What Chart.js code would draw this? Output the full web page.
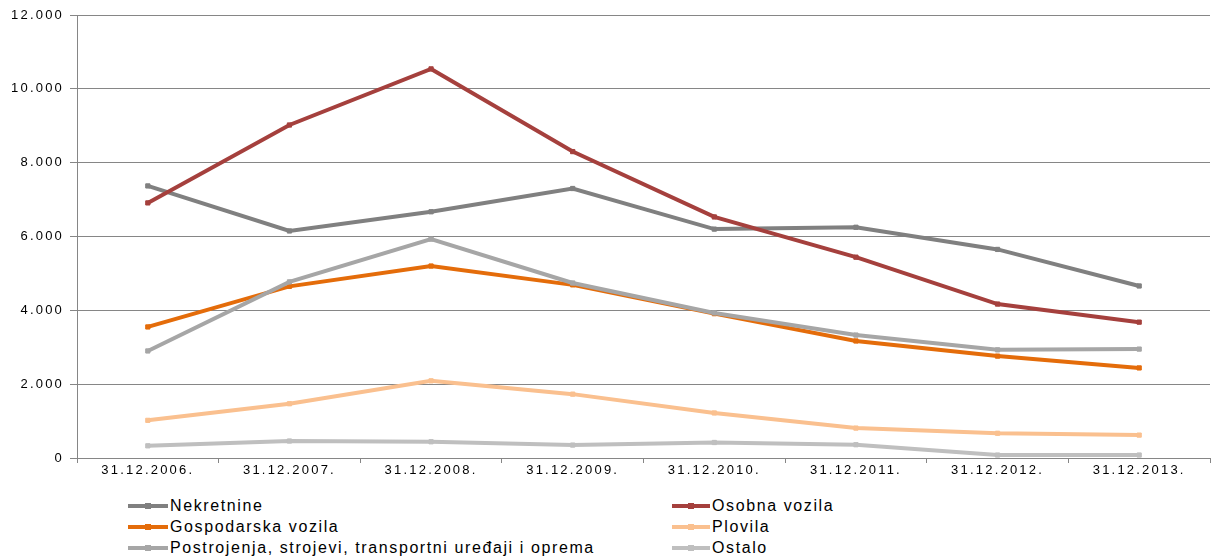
<!DOCTYPE html>
<html>
<head>
<meta charset="utf-8">
<script src="https://cdn.jsdelivr.net/npm/chart.js@4/dist/chart.umd.min.js"></script>
<style>
    html, body { margin: 0; padding: 0; background: #fff; }
    #wrap { position: relative; width: 1215px; height: 556px; overflow: hidden; }
    #chart-box { position: absolute; left: 0; top: 0; width: 1215px; height: 480px; }
    .legend-item {
        position: absolute;
        height: 20px;
        font-family: "Liberation Sans", Arial, sans-serif;
        font-size: 16px;
        letter-spacing: 1.6px;
        color: #000;
        line-height: 20px;
        white-space: nowrap;
    }
    .legend-line {
        position: absolute;
        left: 0;
        top: 8px;
        height: 4px;
    }
    .legend-mark {
        position: absolute;
        top: 7px;
        width: 6px;
        height: 6px;
    }
    .legend-text { position: absolute; top: 0; }
</style>
</head>
<body>
<div id="wrap">
    <div id="chart-box"><canvas id="trend-chart"></canvas></div>
    <div id="legend"></div>
</div>
<script>
// --- Data ---
const categories = ["31.12.2006.", "31.12.2007.", "31.12.2008.", "31.12.2009.", "31.12.2010.", "31.12.2011.", "31.12.2012.", "31.12.2013."];
const seriesNames = ["Nekretnine", "Osobna vozila", "Gospodarska vozila", "Plovila", "Postrojenja, strojevi, transportni uređaji i oprema", "Ostalo"];
const nekretnine = [7370, 6150, 6670, 7300, 6200, 6250, 5650, 4660];
const osobnaVozila = [6910, 9020, 10540, 8300, 6530, 5440, 4170, 3680];
const gospodarskaVozila = [3550, 4650, 5200, 4690, 3910, 3170, 2760, 2440];
const plovila = [1020, 1470, 2090, 1730, 1220, 810, 670, 620];
const postrojenja = [2900, 4770, 5930, 4740, 3930, 3330, 2930, 2950];
const ostalo = [330, 460, 440, 350, 420, 360, 80, 80];
const yTicks = [0, 2000, 4000, 6000, 8000, 10000, 12000];

const seriesValues = [nekretnine, osobnaVozila, gospodarskaVozila, plovila, postrojenja, ostalo];
const seriesColors = ["#808080", "#a5403d", "#e46c0a", "#fac08f", "#a6a6a6", "#bfbfbf"];

function formatThousands(v) {
    return String(v).replace(/\B(?=(\d{3})+(?!\d))/g, ".");
}

// the axis text in the original is spaced out, so widen it a bit
const spacingPlugin = {
    id: "spacing",
    beforeDraw(chart) { chart.ctx.letterSpacing = "2.2px"; },
    afterDraw(chart) { chart.ctx.letterSpacing = "0px"; }
};

const datasets = seriesNames.map((name, i) => ({
    label: name,
    data: seriesValues[i],
    borderColor: seriesColors[i],
    backgroundColor: seriesColors[i],
    borderWidth: 4,
    pointStyle: "rect",
    pointRadius: 3,
    pointBorderWidth: 1,
    tension: 0,
    order: seriesNames.length - i // later series sit on top, as in the original
}));

new Chart(document.getElementById("trend-chart"), {
    type: "line",
    data: { labels: categories, datasets: datasets },
    options: {
        responsive: true,
        maintainAspectRatio: false,
        animation: false,
        layout: { padding: { top: 15, right: 0, bottom: 0, left: 0 } },
        plugins: {
            legend: { display: false },
            tooltip: { enabled: false }
        },
        scales: {
            x: {
                offset: true,
                grid: {
                    offset: true,
                    drawOnChartArea: false,
                    drawTicks: true,
                    tickLength: 5,
                    color: "#868686"
                },
                border: { color: "#868686" },
                ticks: {
                    color: "#000",
                    padding: 0,
                    maxRotation: 0,
                    autoSkip: false,
                    font: { family: "'Liberation Sans', Arial, sans-serif", size: 13 }
                },
                afterFit(scale) { scale.height = 22; }
            },
            y: {
                min: 0,
                max: 12000,
                afterBuildTicks(scale) { scale.ticks = yTicks.map(v => ({ value: v })); },
                grid: { color: "#868686", tickLength: 7 },
                border: { color: "#868686" },
                ticks: {
                    color: "#000",
                    padding: 6,
                    callback: v => formatThousands(v),
                    font: { family: "'Liberation Sans', Arial, sans-serif", size: 13 }
                },
                afterFit(scale) { scale.width = 77; }
            }
        }
    },
    plugins: [spacingPlugin]
});

// --- HTML legend, two columns like the original ---
const legendBox = document.getElementById("legend");
const colLeft = [128, 672];
const lineWidth = [40, 38];
const rowTop = [496, 517, 538];
seriesNames.forEach((name, i) => {
    const col = i % 2;
    const item = document.createElement("div");
    item.className = "legend-item";
    item.style.left = colLeft[col] + "px";
    item.style.top = rowTop[Math.floor(i / 2)] + "px";
    item.innerHTML = '<div class="legend-line"></div><div class="legend-mark"></div><span class="legend-text"></span>';
    const line = item.querySelector(".legend-line");
    line.style.width = lineWidth[col] + "px";
    line.style.background = seriesColors[i];
    const mark = item.querySelector(".legend-mark");
    mark.style.left = (lineWidth[col] / 2 - 3) + "px";
    mark.style.background = seriesColors[i];
    const text = item.querySelector(".legend-text");
    text.style.left = (lineWidth[col] + 2) + "px";
    text.textContent = name;
    legendBox.appendChild(item);
});
</script>
</body>
</html>
